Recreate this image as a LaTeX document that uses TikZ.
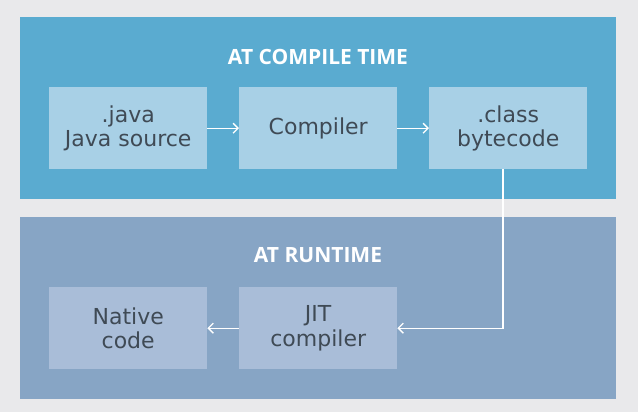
\documentclass[tikz,border=0pt]{standalone}
\usepackage{fontspec}
\setmainfont{Open Sans}
\newfontfamily\boxfont{DejaVu Sans}
\usetikzlibrary{arrows.meta}
\definecolor{bgc}{HTML}{E9E9EB}
\definecolor{toppanel}{HTML}{5AABD0}
\definecolor{topbox}{HTML}{A8D0E6}
\definecolor{botpanel}{HTML}{87A5C5}
\definecolor{botbox}{HTML}{A9BDD8}
\definecolor{txt}{HTML}{3F4A55}
\tikzset{
  panel/.style={draw=none, inner sep=0pt, minimum width=596pt, minimum height=182pt},
  boxnode/.style={draw=none, inner sep=0pt, minimum width=158pt, minimum height=82pt, text=txt, align=center, font=\boxfont\fontsize{22}{24.5}\selectfont},
  titlenode/.style={text=white, font=\fontsize{21}{24}\bfseries\selectfont},
  flow/.style={draw=white, line width=1.3pt, -{Straight Barb[length=5pt,width=10pt]}}
}
\begin{document}
\begin{tikzpicture}[x=1pt,y=-1pt]
\fill[bgc] (0,0) rectangle (638,412);
\useasboundingbox (0,0) rectangle (638,412);
\node[panel, fill=toppanel, anchor=north west] (top) at (20,17) {};
\node[panel, fill=botpanel, anchor=north west] (bot) at (20,217) {};
\node[titlenode] (t1) at (318,57) {AT COMPILE TIME};
\node[titlenode] (t2) at (318,255) {AT RUNTIME};
\node[boxnode, fill=topbox, anchor=north west] (java) at (49,87) {.java\\Java source};
\node[boxnode, fill=topbox, anchor=north west] (comp) at (239,87) {Compiler};
\node[boxnode, fill=topbox, anchor=north west] (cls) at (429,87) {.class\\bytecode};
\node[boxnode, fill=botbox, anchor=north west] (nat) at (49,287) {Native\\code};
\node[boxnode, fill=botbox, anchor=north west] (jit) at (239,287) {JIT\\compiler};
\draw[flow] (java.east) -- (comp.west);
\draw[flow] (comp.east) -- (cls.west);
\draw[flow] (cls.south -| 503,0) |- (jit.east);
\draw[flow] (jit.west) -- (nat.east);
\end{tikzpicture}
\end{document}
